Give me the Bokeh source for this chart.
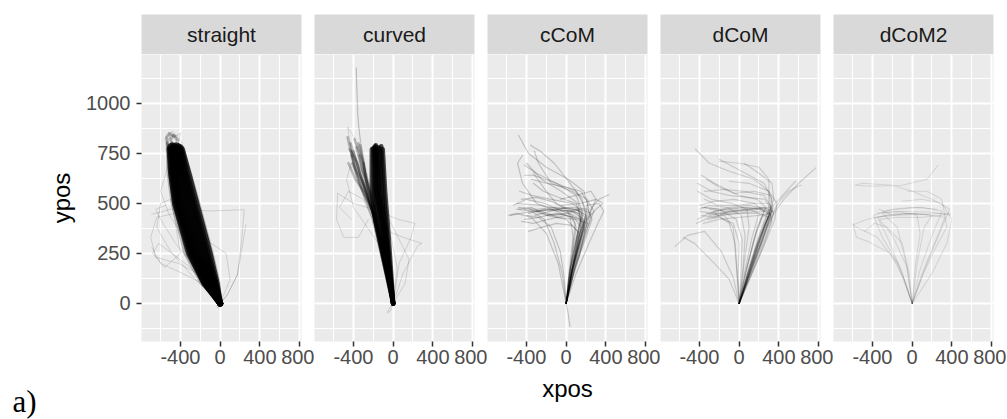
from bokeh.plotting import figure
from bokeh.layouts import row, column
from bokeh.models import Range1d, FixedTicker, Label
from bokeh.embed import file_html
from bokeh.resources import INLINE
from bokeh.core.properties import value

# ---------------- data ----------------
FACETS = ["straight", "curved", "cCoM", "dCoM", "dCoM2"]
X_TICKS = [-400, 0, 400, 800]
X_MINOR = [-600, -200, 200, 600]
Y_TICKS = [0, 250, 500, 750, 1000]
Y_MINOR = [-125, 125, 375, 625, 875, 1125]
X_LIMITS = [-793, 820]
Y_LIMITS = [-190, 1243]
X_LABEL = "xpos"
Y_LABEL = "ypos"
PANEL_TAG = "a)"

STRAIGHT_CORE = [
    [[0, 0], [-35, 100], [-105, 250], [-240, 500], [-320, 650], [-385, 770]],
    [[0, 0], [-45, 100], [-125, 250], [-260, 500], [-340, 650], [-400, 780]],
    [[0, 0], [-55, 100], [-145, 250], [-280, 500], [-355, 650], [-410, 775]],
    [[0, 0], [-65, 100], [-165, 250], [-300, 500], [-370, 650], [-420, 785]],
    [[0, 0], [-78, 100], [-185, 250], [-320, 500], [-385, 650], [-430, 770]],
    [[0, 0], [-90, 100], [-205, 250], [-340, 500], [-400, 650], [-440, 790]],
    [[0, 0], [-100, 100], [-222, 250], [-360, 500], [-420, 650], [-450, 775]],
    [[0, 0], [-112, 100], [-240, 250], [-380, 500], [-435, 650], [-460, 785]],
    [[0, 0], [-122, 100], [-255, 250], [-400, 500], [-450, 650], [-470, 770]],
    [[0, 0], [-133, 100], [-270, 250], [-415, 500], [-465, 650], [-480, 790]],
    [[0, 0], [-143, 100], [-285, 250], [-430, 500], [-475, 650], [-490, 775]],
    [[0, 0], [-153, 100], [-300, 250], [-445, 500], [-485, 650], [-500, 785]],
    [[0, 0], [-160, 100], [-312, 250], [-455, 500], [-495, 650], [-510, 770]],
]
STRAIGHT_HALO = [
    [[0, 0], [-175, 100], [-335, 250], [-470, 500], [-510, 650], [-525, 780]],
    [[0, 0], [-190, 100], [-355, 250], [-485, 500], [-525, 650], [-535, 800]],
    [[0, 0], [-10, 100], [-80, 250], [-215, 500], [-300, 650], [-370, 760]],
    [[-470, 760], [-500, 820], [-470, 840], [-430, 815]],
    [[-520, 770], [-540, 830], [-510, 850], [-460, 835]],
]
STRAIGHT_LIGHT = [
    [[0, 0], [-200, 150], [-450, 300], [-600, 420], [-650, 470], [-550, 490]],
    [[0, 0], [-150, 130], [-420, 200], [-650, 230], [-700, 330], [-640, 430], [-450, 450]],
    [[0, 0], [72, 43], [174, 143], [220, 330], [243, 468], [-100, 462], [-500, 470], [-690, 445]],
    [[0, 0], [72, 43], [174, 143], [260, 393]],
    [[0, 0], [-300, 180], [-620, 300], [-680, 250], [-560, 180], [-400, 250], [-480, 480], [-520, 760]],
    [[0, 0], [-250, 230], [-520, 450], [-600, 560], [-520, 700], [-540, 830]],
    [[0, 0], [-100, 80], [-380, 150], [-600, 200], [-690, 280]],
    [[-450, 760], [-520, 850], [-470, 830], [-400, 850], [-430, 780]],
    [[0, 0], [-200, 300], [-380, 620], [-560, 820], [-480, 860], [-380, 800]],
    [[0, 0], [-20, -25], [-40, -10]],
    [[0, 0], [-120, 200], [-330, 440], [-470, 680], [-540, 800], [-500, 840]],
    [[0, 0], [-60, 160], [-220, 380], [-360, 600], [-450, 800], [-430, 845]],
    [[0, 0], [-250, 120], [-500, 260], [-640, 380], [-600, 500], [-500, 520]],
    [[0, 0], [100, 120], [60, 250], [-150, 320], [-400, 400]],
]

CURVED_CORE = [
    [[0, 0], [-20, 150], [-34, 250], [-55, 400], [-80, 550], [-105, 770]],
    [[0, 0], [-28, 150], [-45, 250], [-70, 400], [-95, 550], [-120, 785]],
    [[0, 0], [-35, 150], [-58, 250], [-88, 400], [-115, 550], [-135, 775]],
    [[0, 0], [-42, 150], [-70, 250], [-105, 400], [-135, 550], [-150, 780]],
    [[0, 0], [-48, 150], [-80, 250], [-120, 400], [-155, 550], [-165, 770]],
    [[0, 0], [-55, 150], [-92, 250], [-140, 400], [-175, 550], [-180, 785]],
    [[0, 0], [-60, 150], [-100, 250], [-155, 400], [-195, 550], [-200, 775]],
    [[0, 0], [-66, 150], [-110, 250], [-175, 400], [-215, 550], [-215, 770]],
    [[0, 0], [-38, 150], [-62, 250], [-110, 400], [-170, 550], [-190, 780]],
    [[0, 0], [-30, 150], [-52, 250], [-85, 400], [-140, 550], [-175, 790]],
]
CURVED_CLOUD = [
    [[0, 0], [-90, 200], [-180, 420], [-280, 560], [-380, 720], [-430, 800]],
    [[0, 0], [-80, 200], [-170, 400], [-250, 520], [-330, 640], [-400, 760]],
    [[0, 0], [-100, 220], [-200, 440], [-300, 600], [-360, 700], [-440, 770]],
    [[0, 0], [-85, 210], [-190, 460], [-260, 600], [-320, 680], [-370, 780]],
    [[0, 0], [-95, 190], [-210, 430], [-310, 560], [-400, 700], [-460, 830]],
    [[0, 0], [-75, 180], [-160, 380], [-230, 500], [-290, 620], [-340, 740]],
    [[0, 0], [-100, 230], [-215, 470], [-280, 580], [-350, 650], [-420, 740]],
    [[0, 0], [-90, 210], [-190, 420], [-240, 530], [-300, 700], [-390, 820]],
    [[0, 0], [-70, 190], [-180, 440], [-220, 520], [-270, 600], [-300, 700]],
    [[0, 0], [-95, 230], [-200, 450], [-260, 540], [-390, 680], [-420, 760]],
    [[0, 0], [-85, 200], [-185, 450], [-230, 560], [-280, 660], [-330, 790]],
    [[0, 0], [-95, 215], [-205, 455], [-270, 520], [-340, 600], [-410, 700]],
    [[0, 0], [-80, 195], [-175, 430], [-250, 570], [-310, 720], [-350, 800]],
    [[0, 0], [-105, 230], [-220, 480], [-300, 560], [-380, 620], [-450, 700]],
]
CURVED_LIGHT = [
    [[0, 0], [-150, 400], [-300, 700], [-350, 900], [-373, 1177], [-360, 950], [-330, 800]],
    [[0, 0], [-200, 470], [-400, 500], [-560, 550], [-570, 420], [-500, 330], [-350, 330], [-250, 420]],
    [[0, 0], [100, 150], [250, 290], [290, 300], [100, 330], [-50, 360]],
    [[0, 0], [60, 200], [180, 330], [220, 400], [50, 420], [-100, 450]],
    [[0, 0], [-30, -40], [-60, -45], [-20, -10]],
    [[0, 0], [120, 100], [160, 220], [80, 300], [-50, 430]],
    [[0, 0], [-150, 300], [-400, 480], [-470, 620], [-420, 700]],
    [[0, 0], [-120, 350], [-250, 600], [-420, 760], [-460, 880], [-380, 820]],
    [[0, 0], [-100, 300], [-300, 520], [-450, 560], [-540, 480], [-420, 420]],
    [[0, 0], [40, 180], [-20, 330], [-150, 480], [-200, 600]],
]

CCOM_LINES = [
    [[0, 0], [50, 150], [120, 300], [170, 420], [60, 460], [-150, 470], [-400, 455], [-560, 440]],
    [[0, 0], [60, 160], [140, 320], [200, 440], [100, 470], [-100, 480], [-300, 470], [-480, 480]],
    [[0, 0], [40, 120], [100, 260], [150, 380], [80, 430], [-100, 450], [-280, 430], [-420, 420]],
    [[0, 0], [70, 180], [160, 350], [230, 470], [180, 560], [20, 620], [-200, 680], [-380, 750], [-480, 840]],
    [[0, 0], [50, 140], [110, 280], [150, 400], [120, 500], [-50, 560], [-250, 620], [-400, 700]],
    [[0, 0], [80, 200], [180, 380], [260, 480], [330, 520], [430, 543]],
    [[0, 0], [60, 170], [150, 330], [210, 420], [300, 470], [370, 500], [300, 520], [150, 500], [-50, 490]],
    [[0, 0], [30, 100], [80, 230], [120, 360], [0, 420], [-200, 440], [-350, 480], [-500, 470]],
    [[0, 0], [40, 130], [90, 250], [130, 350], [60, 390], [-100, 400], [-250, 380], [-380, 360]],
    [[0, 0], [20, 100], [60, 250], [90, 400], [0, 470], [-150, 510], [-300, 530], [-450, 520]],
    [[0, 0], [60, 150], [150, 300], [210, 400], [190, 480], [100, 560], [-100, 600], [-300, 650], [-420, 690]],
    [[0, 0], [90, 180], [200, 330], [260, 420], [220, 470], [60, 480], [-120, 470], [-300, 460]],
    [[0, 0], [50, 200], [100, 380], [60, 440], [-80, 470], [-220, 500], [-400, 520], [-530, 490]],
    [[0, 0], [-40, 150], [-120, 300], [-220, 420], [-350, 460], [-480, 470]],
    [[0, 0], [-80, 200], [-200, 350], [-350, 430], [-500, 450], [-580, 440]],
    [[0, 0], [70, 200], [120, 330], [200, 430], [160, 520], [40, 600], [-120, 700], [-260, 760], [-360, 790]],
    [[0, 0], [40, 170], [110, 330], [170, 450], [100, 540], [-100, 600], [-330, 640], [-420, 640]],
    [[0, 0], [100, 150], [230, 300], [320, 400], [380, 460], [330, 500], [200, 490]],
    [[0, 0], [60, 120], [130, 230], [190, 360], [150, 420], [0, 440], [-180, 420], [-330, 400], [-450, 410]],
    [[0, 0], [30, 160], [70, 330], [40, 430], [-100, 460], [-300, 500], [-440, 600], [-490, 700], [-440, 740]],
    [[0, 0], [80, 160], [170, 300], [230, 400], [250, 450], [150, 470], [-20, 450], [-200, 440]],
    [[0, 0], [20, -50], [38, -115]],
    [[0, 0], [50, 140], [140, 300], [190, 390], [130, 450], [-60, 470], [-250, 490], [-500, 500]],
    [[0, 0], [90, 220], [180, 400], [220, 500], [150, 560], [0, 580], [-200, 600], [-350, 620]],
    [[0, 0], [70, 190], [150, 340], [190, 430], [120, 470], [-40, 460], [-220, 470], [-380, 450]],
    [[0, 0], [60, 170], [130, 310], [180, 410], [140, 460], [0, 480], [-160, 460], [-320, 440]],
    [[0, 0], [40, 160], [100, 320], [140, 420], [40, 450], [-120, 440], [-260, 450], [-360, 470]],
    [[0, 0], [80, 170], [170, 320], [240, 450], [300, 520], [250, 560], [100, 540], [-60, 520]],
    [[0, 0], [30, 150], [90, 300], [150, 420], [100, 500], [-80, 530], [-230, 560], [-330, 600]],
    [[0, 0], [60, 140], [120, 260], [170, 350], [220, 400], [100, 420], [-80, 430], [-250, 460], [-420, 470]],
    [[0, 0], [50, 180], [120, 350], [160, 460], [60, 500], [-150, 520], [-350, 540], [-470, 560]],
    [[0, 0], [100, 200], [200, 360], [280, 460], [210, 520], [60, 560], [-150, 600], [-280, 700], [-320, 760]],
    [[0, 0], [-20, 130], [-60, 260], [-150, 380], [-280, 430], [-400, 440]],
    [[0, 0], [40, 140], [110, 290], [160, 390], [120, 450], [20, 470], [-100, 500], [-200, 560], [-330, 650]],
]

DCOM_LINES = [
    [[0, 0], [100, 150], [200, 300], [300, 430], [200, 450], [0, 450], [-200, 440], [-330, 450]],
    [[0, 0], [120, 160], [240, 320], [330, 460], [250, 480], [50, 470], [-150, 460], [-300, 470]],
    [[0, 0], [90, 140], [190, 290], [280, 420], [340, 470], [250, 540], [50, 560], [-150, 570], [-350, 560]],
    [[0, 0], [110, 170], [220, 330], [320, 470], [300, 560], [150, 620], [-100, 660], [-300, 700], [-440, 770]],
    [[0, 0], [60, 170], [130, 330], [200, 450], [100, 470], [-100, 460], [-250, 430], [-380, 440]],
    [[0, 0], [130, 150], [260, 300], [360, 420], [380, 500], [300, 560], [100, 600], [-100, 610]],
    [[0, 0], [-20, 150], [-40, 300], [-100, 400], [-250, 450], [-400, 460]],
    [[0, 0], [20, 160], [30, 320], [-30, 420], [-200, 470], [-380, 480]],
    [[0, 0], [-60, 130], [-180, 260], [-350, 360], [-520, 340], [-646, 285]],
    [[0, 0], [140, 200], [280, 380], [350, 450], [450, 520], [600, 600], [773, 677]],
    [[0, 0], [100, 180], [200, 340], [290, 460], [400, 520], [568, 610]],
    [[0, 0], [80, 180], [170, 350], [250, 460], [150, 500], [-50, 520], [-250, 510], [-400, 490]],
    [[0, 0], [120, 140], [240, 280], [330, 410], [300, 470], [100, 490], [-100, 480], [-300, 450], [-420, 420]],
    [[0, 0], [50, 200], [100, 380], [80, 470], [-80, 500], [-280, 520], [-420, 560]],
    [[0, 0], [110, 160], [220, 320], [310, 440], [330, 520], [250, 600], [100, 640], [-50, 680], [-200, 720]],
    [[0, 0], [-30, 200], [-60, 380], [-150, 440], [-300, 430], [-430, 400]],
    [[0, 0], [100, 150], [210, 320], [300, 450], [350, 520], [330, 600], [200, 650], [50, 700]],
    [[0, 0], [80, 130], [160, 260], [250, 380], [310, 450], [200, 440], [0, 430], [-200, 420], [-360, 400]],
    [[0, 0], [130, 180], [250, 350], [340, 480], [320, 540], [150, 560], [-50, 550], [-250, 600], [-380, 640]],
    [[0, 0], [-100, 120], [-250, 200], [-450, 300], [-560, 330]],
    [[0, 0], [90, 200], [180, 380], [270, 480], [180, 520], [0, 540], [-200, 580], [-330, 620]],
    [[0, 0], [140, 180], [260, 340], [360, 470], [420, 520], [500, 560], [620, 590]],
    [[0, 0], [60, 150], [150, 320], [230, 430], [320, 460], [200, 470], [0, 460], [-150, 450], [-300, 440]],
    [[0, 0], [100, 160], [200, 320], [300, 440], [300, 620], [200, 680], [0, 700], [-200, 710]],
    [[0, 0], [110, 150], [230, 310], [320, 440], [260, 460], [60, 455], [-120, 445], [-280, 455]],
    [[0, 0], [90, 160], [200, 330], [290, 450], [220, 470], [20, 480], [-180, 470], [-350, 480]],
    [[0, 0], [100, 170], [210, 330], [310, 450], [260, 470], [80, 480], [-100, 470], [-260, 460]],
    [[0, 0], [-10, 150], [0, 300], [-60, 400], [-200, 430], [-320, 420]],
    [[0, 0], [120, 170], [240, 330], [340, 460], [300, 500], [150, 500], [-30, 490], [-220, 490], [-350, 520]],
    [[0, 0], [80, 140], [170, 280], [260, 400], [330, 460], [260, 520], [80, 530], [-100, 540], [-280, 560], [-420, 600]],
    [[0, 0], [130, 160], [260, 320], [350, 450], [310, 480], [120, 470], [-60, 460], [-240, 450]],
    [[0, 0], [40, 180], [60, 340], [20, 440], [-120, 480], [-300, 490], [-400, 470]],
]

DCOM2_LINES = [
    [[0, 0], [-100, 150], [-250, 330], [-350, 430], [-150, 450], [100, 445], [350, 450]],
    [[0, 0], [100, 150], [250, 330], [330, 430], [100, 445], [-150, 440], [-370, 430]],
    [[0, 0], [-60, 200], [-150, 380], [-300, 450], [-100, 460], [200, 455], [390, 440]],
    [[0, 0], [150, 200], [300, 380], [380, 470], [200, 520], [0, 560], [-200, 590], [-500, 600],
     [-575, 590], [-400, 585], [-100, 590], [150, 620], [260, 690]],
    [[0, 0], [-150, 200], [-350, 330], [-560, 380], [-595, 393], [-450, 420], [-250, 440], [50, 450]],
    [[0, 0], [50, 200], [120, 380], [200, 440], [0, 450], [-200, 440], [-330, 470]],
    [[0, 0], [-120, 180], [-300, 330], [-390, 440], [-200, 470], [0, 480], [250, 470]],
    [[0, 0], [200, 150], [350, 300], [400, 420], [300, 500], [100, 520], [-100, 510]],
    [[0, 0], [-30, 150], [-100, 300], [-250, 380], [-380, 400], [-480, 360]],
    [[0, 0], [80, 170], [200, 340], [300, 460], [100, 480], [-150, 470], [-300, 460]],
    [[0, 0], [-50, 180], [-200, 340], [-330, 420], [-150, 430], [100, 430], [300, 440], [390, 450]],
    [[0, 0], [120, 160], [260, 300], [350, 380], [300, 520], [150, 560], [-50, 560]],
    [[0, 0], [-80, 120], [-220, 250], [-450, 310], [-560, 330], [-600, 400]],
    [[0, 0], [30, 180], [80, 350], [50, 440], [-150, 460], [-350, 450]],
]

# ---------------- styling / layout ----------------
LAYERS = {
    "straight": [(STRAIGHT_LIGHT, 1.0, 0.13), (STRAIGHT_HALO, 3, 0.25), (STRAIGHT_CORE, 6, 0.75)],
    "curved": [(CURVED_LIGHT, 1.0, 0.13), (CURVED_CLOUD, 2.5, 0.25), (CURVED_CORE, 4.5, 0.7)],
    "cCoM": [(CCOM_LINES, 1.2, 0.19)],
    "dCoM": [(DCOM_LINES, 1.2, 0.15)],
    "dCoM2": [(DCOM2_LINES, 1.1, 0.1)],
}

FONT = "Liberation Sans"
SERIF = "Liberation Serif"
FRAME_W, GAP, LEFT0, TAG_W = 160, 13, 141, 42
FRAME_H, BOTTOM, STRIP_H, TOP = 287, 78, 40, 14

# column holding the panel tag, left of the first panel
tag = figure(width=TAG_W, height=FRAME_H + BOTTOM, x_range=Range1d(0, 1), y_range=Range1d(0, 1),
             output_backend="svg", toolbar_location=None,
             x_axis_location=None, y_axis_location=None,
             min_border_left=0, min_border_right=0, min_border_top=0, min_border_bottom=0,
             background_fill_color="white", border_fill_color="white", outline_line_color=None)
try:
    tag.frame_align = False
except AttributeError:
    pass
tag.grid.visible = False
tag.add_layout(Label(x=12, y=18, x_units="screen", y_units="screen", text=PANEL_TAG,
                     text_font=SERIF, text_font_size="31px", text_color="#000000",
                     text_baseline="alphabetic"))

y_range = Range1d(*Y_LIMITS)
strips, panels = [], []
for i, name in enumerate(FACETS):
    rb = GAP
    slb = LEFT0 if i == 0 else 0
    plb = LEFT0 - TAG_W if i == 0 else 0

    s = figure(width=slb + FRAME_W + rb, height=TOP + STRIP_H, x_range=Range1d(0, 1), y_range=Range1d(0, 1),
               output_backend="svg", toolbar_location=None,
               x_axis_location=None, y_axis_location=None,
               min_border_left=slb, min_border_right=rb, min_border_top=TOP, min_border_bottom=0,
               background_fill_color="#D9D9D9", border_fill_color="white", outline_line_color=None)
    s.grid.visible = False
    s.text(x=[0.5], y=[0.5], text=[name], text_align="center", text_baseline="middle",
           text_font=value(FONT), text_font_size="21px", text_color="#1A1A1A")
    strips.append(s)

    p = figure(width=plb + FRAME_W + rb, height=FRAME_H + BOTTOM, x_range=Range1d(*X_LIMITS), y_range=y_range,
               output_backend="svg", toolbar_location=None,
               y_axis_location="left" if i == 0 else None,
               min_border_left=plb, min_border_right=rb, min_border_top=0, min_border_bottom=BOTTOM,
               background_fill_color="#EBEBEB", border_fill_color="white", outline_line_color=None)
    p.xgrid.ticker = FixedTicker(ticks=X_TICKS, minor_ticks=X_MINOR)
    p.ygrid.ticker = FixedTicker(ticks=Y_TICKS, minor_ticks=Y_MINOR)
    p.grid.grid_line_color = "white"
    p.grid.grid_line_width = 2
    p.grid.minor_grid_line_color = "white"
    p.grid.minor_grid_line_width = 1

    axes = [(p.xaxis, X_TICKS)]
    if i == 0:
        axes.append((p.yaxis, Y_TICKS))
    for ax, tk in axes:
        ax.ticker = FixedTicker(ticks=tk)
        ax.major_label_overrides = {t: str(t) for t in tk}
        ax.axis_line_color = None
        ax.major_tick_line_color = "#333333"
        ax.major_tick_line_width = 1.5
        ax.major_tick_in = 0
        ax.major_tick_out = 5
        ax.minor_tick_line_color = None
        ax.major_label_text_font = FONT
        ax.major_label_text_font_size = "20px"
        ax.major_label_text_color = "#4D4D4D"
        ax.major_label_standoff = 3
        ax.axis_label_text_font = FONT
        ax.axis_label_text_font_size = "24px"
        ax.axis_label_text_font_style = "normal"
        ax.axis_label_text_color = "#000000"
    if i == 0:
        p.yaxis.axis_label = Y_LABEL
        p.yaxis.axis_label_standoff = 8
        p.yaxis.major_label_standoff = 6
    if i == len(FACETS) // 2:
        p.xaxis.axis_label = X_LABEL
        p.xaxis.axis_label_standoff = 8

    for trajs, lw, la in LAYERS[name]:
        p.multi_line(xs=[[pt[0] for pt in t] for t in trajs],
                     ys=[[pt[1] for pt in t] for t in trajs],
                     line_color="black", line_width=lw, line_alpha=la,
                     line_join="round", line_cap="round")
    panels.append(p)

layout = column(row(*strips), row(tag, *panels))
open("out.html", "w").write(file_html(layout, INLINE))
